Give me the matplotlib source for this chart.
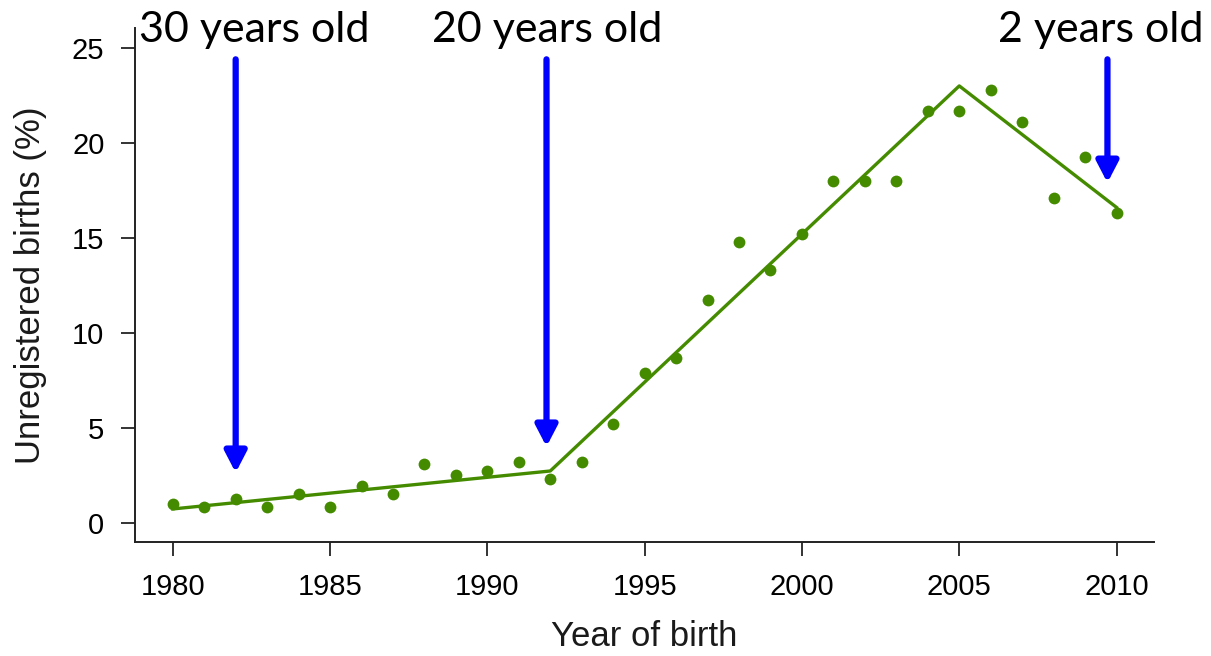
import numpy as np
import matplotlib.pyplot as plt

# Unregistered births by year of birth
years = list(range(1980, 2011))
pct = [1.0, 0.8, 1.27, 0.8, 1.5, 0.8, 1.95, 1.5, 3.1, 2.5, 2.7, 3.2, 2.3,
       3.2, 5.2, 7.9, 8.65, 11.7, 14.8, 13.3, 15.2, 18.0, 18.0, 18.0,
       21.7, 21.7, 22.8, 21.1, 17.1, 19.25, 16.3]

# Segmented fit (breakpoints at 1992 and 2005)
fit_x = [1980, 1992, 2005, 2010]
fit_y = [0.72, 2.72, 23.0, 16.6]

# Age markers: label, arrow x, arrow tip
age_labels = ["30 years old", "20 years old", "2 years old"]
arrow_x = [1982.0, 1991.88, 2009.71]
arrow_tip = [2.63, 4.0, 17.9]
label_x = [1982.6, 1991.9, 2009.5]
arrow_top = 24.4

green = "#458B00"

fig = plt.figure(figsize=(12.11, 6.56), dpi=100)
ax = fig.add_axes([135 / 1211, 1 - 542 / 656, (1154 - 135) / 1211, (542 - 28) / 656])

ax.plot(years, pct, "o", color=green, markersize=8.5, markeredgewidth=0)
ax.plot(fit_x, fit_y, "-", color=green, linewidth=2.4)

for lab, xa, tip, xl in zip(age_labels, arrow_x, arrow_tip, label_x):
    ax.annotate("", xy=(xa, tip), xytext=(xa, arrow_top),
                arrowprops=dict(arrowstyle="-|>,head_length=1.25,head_width=0.65",
                                color="#0000FF", lw=4.5, shrinkA=0, shrinkB=0),
                annotation_clip=False)
    ax.text(xl, 25.3, lab, ha="center", va="baseline", fontsize=31,
            family="Lato", color="black", clip_on=False)

ax.set_xlim(1978.8, 2011.19)
ax.set_ylim(-1.02, 26.05)
ax.set_xticks([1980, 1985, 1990, 1995, 2000, 2005, 2010])
ax.set_yticks([0, 5, 10, 15, 20, 25])

for side in ["top", "right"]:
    ax.spines[side].set_visible(False)
for side in ["left", "bottom"]:
    ax.spines[side].set_linewidth(1.4)
    ax.spines[side].set_color("#222222")

ax.tick_params(axis="both", direction="out", length=10, width=1.4,
               color="#333333", labelsize=21, pad=12, labelcolor="black")
for t in ax.get_xticklabels() + ax.get_yticklabels():
    t.set_family("Liberation Sans")

ax.set_xlabel("Year of birth", fontsize=25, family="Liberation Sans", labelpad=14,
              color="#1a1a1a")
ax.set_ylabel("Unregistered births (%)", fontsize=25, family="Liberation Sans",
              labelpad=18, color="#1a1a1a")

fig.savefig("out.png", dpi=100)
